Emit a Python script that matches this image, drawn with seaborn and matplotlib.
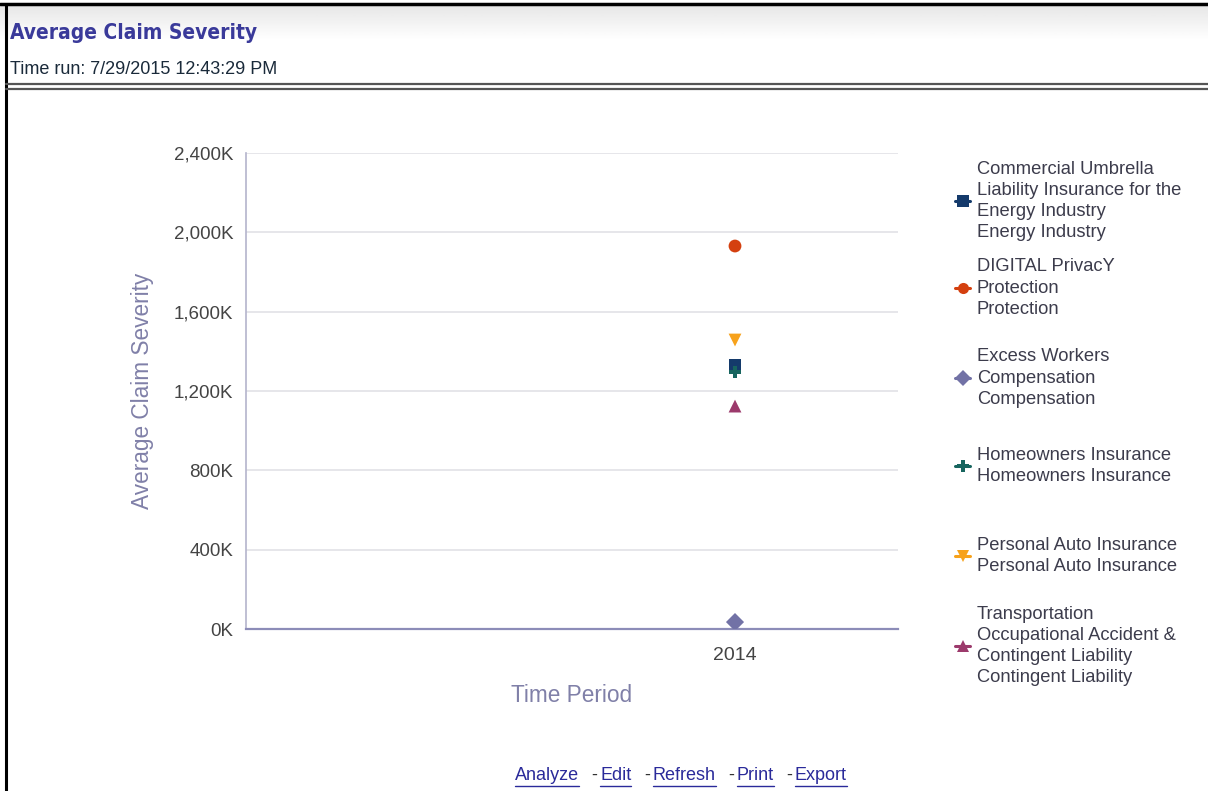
import matplotlib.pyplot as plt
import matplotlib.lines as mlines
import numpy as np
import pandas as pd
import seaborn as sns

# Data
series = [
    'Commercial Umbrella Liability',
    'DIGITAL PrivacY Protection',
    'Excess Workers Compensation',
    'Homeowners Insurance',
    'Personal Auto Insurance',
    'Transportation Occupational Accident',
]
legend_labels = [
    'Commercial Umbrella\nLiability Insurance for the\nEnergy Industry\nEnergy Industry',
    'DIGITAL PrivacY\nProtection\nProtection',
    'Excess Workers\nCompensation\nCompensation',
    'Homeowners Insurance\nHomeowners Insurance',
    'Personal Auto Insurance\nPersonal Auto Insurance',
    'Transportation\nOccupational Accident &\nContingent Liability\nContingent Liability',
]
periods = ['2014', '2014', '2014', '2014', '2014', '2014']
severity = [1331000, 1931000, 35000, 1296000, 1457000, 1124000]
colors = ['#143a6b', '#d4400f', '#7272a6', '#17655f', '#f7a21b', '#9c3a6c']
markers = ['s', 'o', 'D', 'P', 'v', '^']
y_ticks = [0, 400000, 800000, 1200000, 1600000, 2000000, 2400000]

df = pd.DataFrame({
    'Time Period': periods,
    'Average Claim Severity': severity,
    'Series': series,
})

sns.set_style('white')
plt.rcParams['font.family'] = ['Liberation Sans', 'DejaVu Sans']

W, H = 1208, 791
fig = plt.figure(figsize=(W / 100, H / 100), dpi=100)


def fx(px):
    return px / W


def fy(py):
    return 1 - py / H


# Page header: gradient band, borders, title
hdr = fig.add_axes([0, fy(40), 1, fy(4) - fy(40)])
grad = np.linspace(0.90, 1.0, 50).reshape(-1, 1)
hdr.imshow(np.repeat(grad, 2, axis=1), cmap='gray', vmin=0, vmax=1,
           aspect='auto', extent=[0, 1, 0, 1], origin='upper')
hdr.axis('off')

fig.add_artist(mlines.Line2D([0, 1], [fy(4), fy(4)], color='black', lw=2.5))
fig.add_artist(mlines.Line2D([fx(6), fx(6)], [0, fy(4)], color='black', lw=2.2))
fig.add_artist(mlines.Line2D([fx(6), 1], [fy(84), fy(84)], color='#555555', lw=1.6))
fig.add_artist(mlines.Line2D([fx(6), 1], [fy(89), fy(89)], color='#555555', lw=1.6))

fig.text(fx(10), fy(33), 'Average Claim Severity', fontsize=15, fontweight='bold',
         color='#3a3a9a', va='center', ha='left', family=['DejaVu Sans'],
         fontstretch='condensed')
fig.text(fx(10), fy(69), 'Time run: 7/29/2015 12:43:29 PM', fontsize=13,
         color='#1a2a3a', va='center', ha='left')

# Chart
ax = fig.add_axes([fx(246), fy(629), fx(898) - fx(246), fy(153) - fy(629)])
sns.scatterplot(
    data=df, x='Time Period', y='Average Claim Severity',
    hue='Series', style='Series',
    palette=dict(zip(series, colors)),
    markers=dict(zip(series, markers)),
    s=85, linewidth=0, legend=False, ax=ax, zorder=3,
)
ax.set_xlim(-1.5, 0.5)
ax.set_ylim(0, 2400000)
ax.set_yticks(y_ticks)
ax.set_yticklabels([f'{v // 1000:,}K' for v in y_ticks])
ax.yaxis.grid(True, color='#e2e2e6', lw=1.2)
ax.xaxis.grid(False)
for side in ['top', 'right']:
    ax.spines[side].set_visible(False)
ax.spines['left'].set_color('#b4b4cc')
ax.spines['left'].set_linewidth(1.2)
ax.spines['bottom'].set_color('#8c8cb8')
ax.spines['bottom'].set_linewidth(1.6)
ax.tick_params(axis='y', length=3, color='#b4b4cc', labelsize=13.5,
               labelcolor='#444444', pad=6)
ax.tick_params(axis='x', length=0, labelsize=14, labelcolor='#444444', pad=13)
ax.set_ylabel('Average Claim Severity', fontsize=16.3, color='#8080a8', labelpad=14)
ax.set_xlabel('Time Period', fontsize=16.3, color='#8080a8', labelpad=14)

# Legend, one fixed-height slot per series
slot_y = [201, 288, 378, 466, 556, 646]
for lab, col, mk, yy in zip(legend_labels, colors, markers, slot_y):
    fig.add_artist(mlines.Line2D([fx(955), fx(962.5), fx(970)], [fy(yy)] * 3,
                                 color=col, lw=2.2, marker=mk, markevery=[1],
                                 markersize=8, markeredgewidth=0))
    fig.text(fx(977), fy(yy), lab, fontsize=13.2, color='#3c3c4c', va='center',
             ha='left', linespacing=1.33)

# Links at the bottom
links = [('Analyze', 515), ('Edit', 600), ('Refresh', 653), ('Print', 737), ('Export', 795)]
link_texts = []
for i, (name, x0) in enumerate(links):
    t = fig.text(fx(x0), fy(775), name, fontsize=13, color='#2a2a9a',
                 va='center', ha='left')
    link_texts.append(t)
    if i > 0:
        fig.text(fx(x0 - 3), fy(775), '-', fontsize=13, color='#333333',
                 va='center', ha='right')

fig.canvas.draw()
rend = fig.canvas.get_renderer()
for t in link_texts:
    bb = t.get_window_extent(rend)
    fig.add_artist(mlines.Line2D([bb.x0 / W, bb.x1 / W], [fy(786), fy(786)],
                                 color='#2a2a9a', lw=1))

fig.savefig('out.png', dpi=100, facecolor='white')
